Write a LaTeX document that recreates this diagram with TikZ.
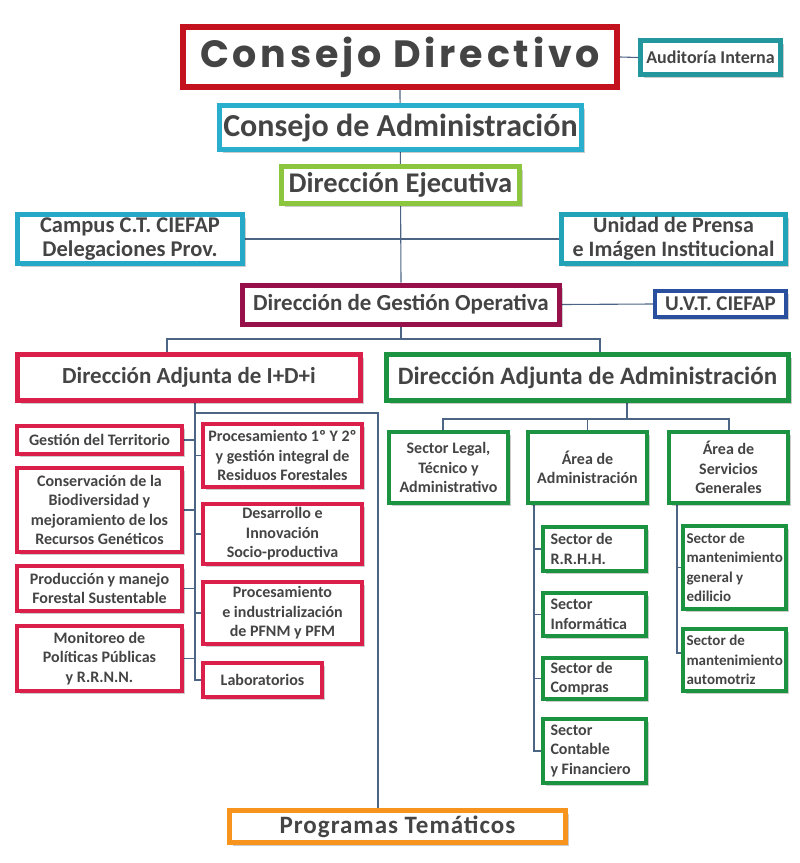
\documentclass[tikz,border=0pt]{standalone}
\usepackage{fontspec}
\setmainfont{Carlito}
\newfontfamily\geo{Poppins}[LetterSpace=10]
\newfontfamily\spaced{Carlito}[LetterSpace=4]
\usetikzlibrary{shadows}
\definecolor{txt}{HTML}{444444}
\definecolor{cdred}{HTML}{C4111E}
\definecolor{aiteal}{HTML}{24979E}
\definecolor{cacyan}{HTML}{2AAECD}
\definecolor{degreen}{HTML}{8CC63E}
\definecolor{cpcyan}{HTML}{26A8C8}
\definecolor{prteal}{HTML}{22A3B8}
\definecolor{dgomar}{HTML}{98104A}
\definecolor{uvtblue}{HTML}{2A4F9E}
\definecolor{idired}{HTML}{DA1F4B}
\definecolor{admgreen}{HTML}{1C9340}
\definecolor{ptorange}{HTML}{F7941D}
\definecolor{lncol}{HTML}{4D6584}
\pgfdeclarelayer{bg}
\pgfsetlayers{bg,main}
\tikzset{
  bx/.style={draw=#1, fill=white, inner sep=0pt, text=txt, align=center,
    font=\bfseries, drop shadow={shadow xshift=3pt, shadow yshift=-3pt, opacity=.2, fill=black}},
  sm/.style={font=\bfseries\fontsize{16}{19.5}\selectfont},
  smc/.style={font=\bfseries\fontsize{15}{19.5}\selectfont},
  ln/.style={draw=lncol, line width=1.1pt},
  lbox/.style={bx=idired, line width=4pt, sm},
  gbox/.style={bx=admgreen, line width=4pt, sm},
}
\begin{document}
\begin{tikzpicture}[x=1pt,y=-1pt]
\useasboundingbox (0,0) rectangle (800,863);

% top level
\node[bx=cdred, line width=6pt, minimum width=434pt, minimum height=60pt,
  font=\geo\bfseries\fontsize{38}{38}\selectfont] (cd) at (400,57) {Consejo Directivo};
\node[bx=aiteal, line width=5pt, minimum width=140pt, minimum height=34pt,
  font=\bfseries\fontsize{18}{18}\selectfont] (ai) at (710.5,57.5) {Auditoría Interna};
\node[bx=cacyan, line width=5pt, minimum width=362pt, minimum height=44pt,
  font=\bfseries\fontsize{32}{32}\selectfont] (ca) at (400.5,127.5) {Consejo de Administración};
\node[bx=degreen, line width=5pt, minimum width=238pt, minimum height=37pt,
  font=\bfseries\fontsize{28.5}{28.5}\selectfont] (de) at (400.5,185) {Dirección Ejecutiva};
\node[bx=cpcyan, line width=5pt, minimum width=225pt, minimum height=49pt,
  font=\bfseries\fontsize{22.5}{24}\selectfont] (campus) at (130,239) {Campus C.T. CIEFAP\\Delegaciones Prov.};
\node[bx=prteal, line width=5pt, minimum width=224pt, minimum height=49pt,
  font=\bfseries\fontsize{22}{24}\selectfont] (prensa) at (673.5,239) {Unidad de Prensa\\e Imágen Institucional};
\node[bx=dgomar, line width=5pt, minimum width=317pt, minimum height=39pt,
  font=\bfseries\fontsize{23}{23}\selectfont] (dgo) at (401,304.5) {Dirección de Gestión Operativa};
\node[bx=uvtblue, line width=4pt, minimum width=131pt, minimum height=26pt,
  font=\bfseries\fontsize{21}{21}\selectfont] (uvt) at (720.5,304) {U.V.T. CIEFAP};

% adjuntas
\node[bx=idired, line width=5pt, minimum width=343pt, minimum height=46pt,
  font=\bfseries\fontsize{23}{23}\selectfont] (idi) at (189,377.5) {Dirección Adjunta de I+D+i};
\node[bx=admgreen, line width=5pt, minimum width=402pt, minimum height=46pt,
  font=\bfseries\fontsize{25}{25}\selectfont] (adm) at (587.5,377.5) {Dirección Adjunta de Administración};

% I+D+i left column
\node[lbox, minimum width=165pt, minimum height=28pt] (g1) at (99.5,440) {Gestión del Territorio};
\node[lbox, minimum width=165pt, minimum height=84pt] (g2) at (99.5,510) {Conservación de la\\Biodiversidad y\\mejoramiento de los\\Recursos Genéticos};
\node[lbox, minimum width=165pt, minimum height=45pt] (g3) at (99.5,588.5) {Producción y manejo\\Forestal Sustentable};
\node[lbox, minimum width=165pt, minimum height=65pt] (g4) at (99.5,658.5) {Monitoreo de\\Políticas Públicas\\y R.R.N.N.};
% I+D+i right column
\node[lbox, minimum width=159pt, minimum height=63pt] (r1) at (282.5,455.5) {Procesamiento 1º Y 2º\\y gestión integral de\\Residuos Forestales};
\node[lbox, minimum width=159pt, minimum height=60pt] (r2) at (282.5,534) {Desarrollo e\\Innovación\\Socio-productiva};
\node[lbox, minimum width=159pt, minimum height=62pt] (r3) at (282.5,613) {Procesamiento\\e industrialización\\de PFNM y PFM};
\node[lbox, minimum width=119pt, minimum height=34pt] (r4) at (262.5,680) {Laboratorios};

% Administration
\node[gbox, minimum width=119pt, minimum height=71pt] (sl) at (448.5,467.5) {Sector Legal,\\Técnico y\\Administrativo};
\node[gbox, minimum width=119pt, minimum height=71pt] (aa) at (587.5,467.5) {Área de\\Administración};
\node[gbox, minimum width=119pt, minimum height=71pt] (sg) at (728.5,467.5) {Área de\\Servicios\\Generales};

\node[gbox, align=flush left, text width=88pt, minimum width=103pt, minimum height=44pt] (s1) at (594.5,549) {Sector de\\R.R.H.H.};
\node[gbox, align=flush left, text width=88pt, minimum width=103pt, minimum height=43pt] (s2) at (594.5,614.5) {Sector\\Informática};
\node[gbox, align=flush left, text width=88pt, minimum width=103pt, minimum height=41pt] (s3) at (594.5,678.5) {Sector de\\Compras};
\node[gbox, align=flush left, text width=88pt, minimum width=103pt, minimum height=64pt] (s4) at (594.5,751) {Sector\\Contable\\y Financiero};

\node[gbox, smc, align=flush left, text width=96pt, minimum width=103pt, minimum height=83pt] (m1) at (734.5,567.5) {Sector de\\mantenimiento\\general y\\edilicio};
\node[gbox, smc, align=flush left, text width=96pt, minimum width=103pt, minimum height=62pt] (m2) at (734.5,660) {Sector de\\mantenimiento\\automotriz};

% Programas
\node[bx=ptorange, line width=5pt, minimum width=336pt, minimum height=32pt,
  font=\spaced\bfseries\fontsize{25}{25}\selectfont] (pt) at (397.5,826.5) {Programas Temáticos};

% connectors
\begin{pgfonlayer}{bg}
\fill[white] (0,0) rectangle (800,863);
\draw[ln] (cd.south) -- (dgo.north);
\draw[ln] (cd.east) -- (ai.west);
\draw[ln] (campus.east) -- (prensa.west);
\draw[ln] (dgo.east) -- (uvt.west);

\coordinate (b0) at (401,339);
\coordinate (bl) at (167,339);
\coordinate (br) at (600,339);
\draw[ln] (dgo.south) -- (b0);
\draw[ln] (idi.north -| bl) -- (bl) -- (br) -- (adm.north -| br);

\coordinate (lt) at (195,680);
\draw[ln] (idi.south -| lt) -- (lt) -- (r4.west);
\foreach \n in {g1,g2,g3,g4} \draw[ln] (\n.east) -- (\n.east -| lt);
\foreach \n in {r1,r2,r3} \draw[ln] (\n.west) -- (\n.west -| lt);
\coordinate (pj) at (195,413);
\coordinate (pk) at (378,413);
\draw[ln] (pj) -- (pk) -- (pt.north -| pk);

\coordinate (ab) at (627,419);
\coordinate (abl) at (443,419);
\coordinate (abr) at (729,419);
\draw[ln] (adm.south -| ab) -- (ab);
\draw[ln] (sl.north -| abl) -- (abl) -- (abr) -- (sg.north -| abr);
\draw[ln] (aa.north) -- (aa.north |- ab);

\coordinate (at) at (534,751);
\draw[ln] (aa.south -| at) -- (at) -- (s4.west);
\foreach \n in {s1,s2,s3} \draw[ln] (\n.west) -- (\n.west -| at);
\coordinate (st) at (677,653);
\draw[ln] (sg.south -| st) -- (st) -- (st -| m2.west);
\draw[ln] (m1.west) -- (m1.west -| st);
\end{pgfonlayer}
\end{tikzpicture}
\end{document}
